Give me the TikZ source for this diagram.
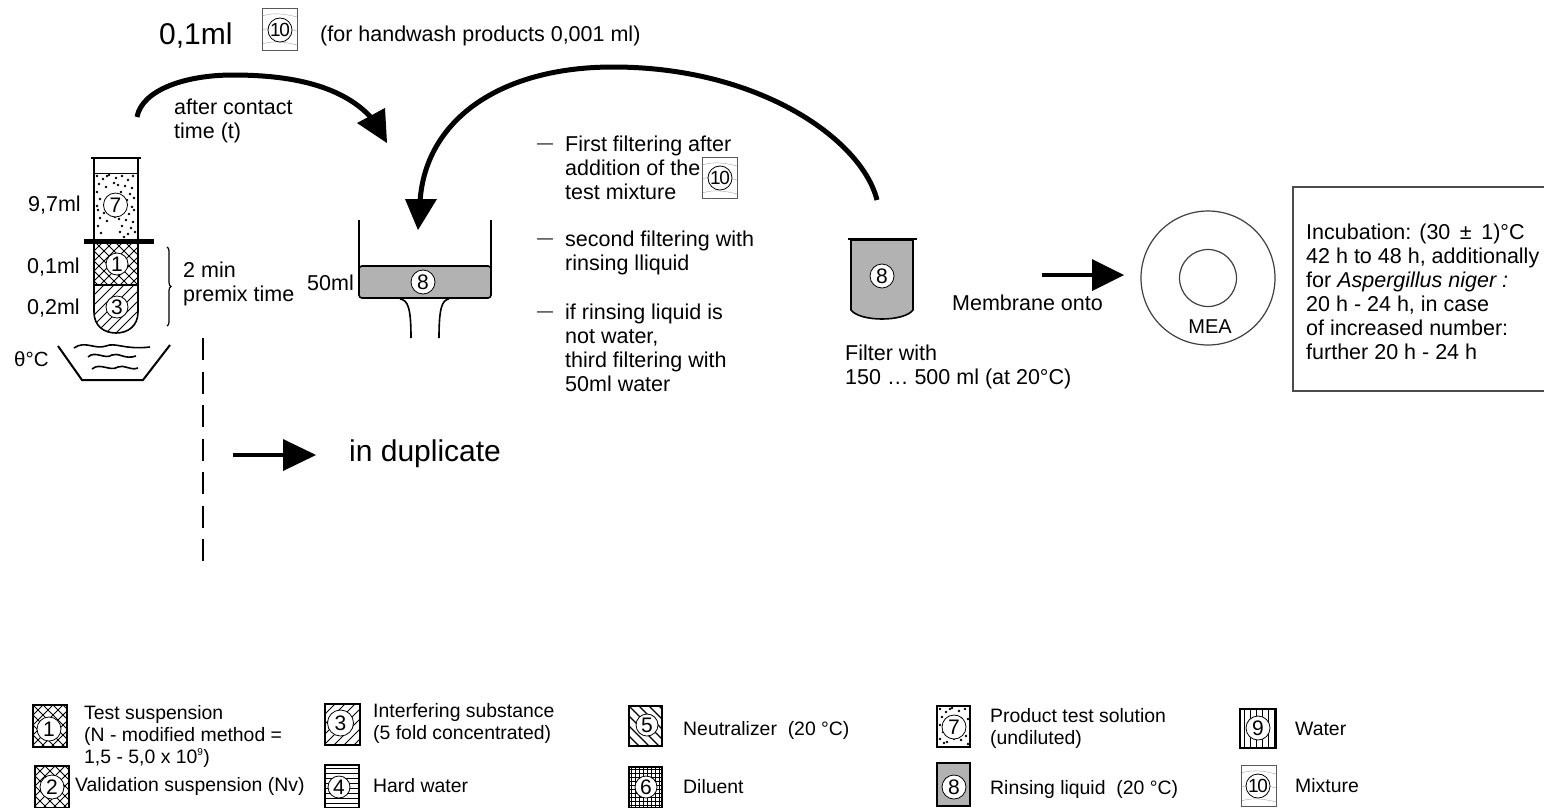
\documentclass[tikz,border=0pt]{standalone}
\usepackage{fontspec}
\setmainfont{Liberation Sans}
\usetikzlibrary{decorations.pathreplacing}
\definecolor{rins}{gray}{0.70}
\tikzset{
 x=1pt,y=-1pt,
 lab/.style={inner sep=0pt,anchor=west,font=\fontsize{21.5}{24}\selectfont,align=left},
 leg/.style={inner sep=0pt,anchor=west,font=\fontsize{19.4}{22}\selectfont,align=left},
 ring/.style={circle,draw=black,line width=0.8pt,fill=white,inner sep=0pt,minimum size=#1,font=\fontsize{21}{21}\selectfont},
 ring/.default=24pt,
 tenring/.style={ring=22pt,font=\fontsize{19}{19}\selectfont\addfontfeature{LetterSpace=-6}},
 vessel/.style={line width=1.6pt,draw=black},
 bigline/.style={line width=5pt,draw=black},
 headfill/.style={fill=black,draw=none},
 iconbox/.style={line width=1.2pt,draw=black},
 mixbox/.style={line width=1pt,draw=black!65},
 stepdash/.style={inner sep=0pt,anchor=west,font=\fontsize{16}{16}\selectfont},
}
\newcommand{\HatchCross}[4]{\begin{scope}\clip (#1,#2) rectangle ++(#3,#4);
 \foreach \k in {-60,-50,...,100}{\draw[line width=1pt] (#1+\k,#2) -- ++(60,60); \draw[line width=1pt] (#1+\k,#2+60) -- ++(60,-60);}\end{scope}}
\newcommand{\HatchUp}[4]{\begin{scope}\clip (#1,#2) rectangle ++(#3,#4);
 \foreach \k in {-10,0,...,120}{\draw[line width=1pt] (#1+\k,#2) -- ++(-60,60);}\end{scope}}
\newcommand{\HatchDown}[4]{\begin{scope}\clip (#1,#2) rectangle ++(#3,#4);
 \foreach \k in {-60,-50,...,60}{\draw[line width=1.4pt] (#1+\k,#2) -- ++(60,60);}\end{scope}}
\newcommand{\HatchH}[4]{\begin{scope}\clip (#1,#2) rectangle ++(#3,#4);
 \foreach \k in {3,8,...,45}{\draw[line width=.7pt] (#1,#2+\k) -- ++(60,0);}\end{scope}}
\newcommand{\HatchV}[4]{\begin{scope}\clip (#1,#2) rectangle ++(#3,#4);
 \foreach \k in {4,10,...,45}{\draw[line width=1pt] (#1+\k,#2) -- ++(0,60);}\end{scope}}
\newcommand{\HatchGrid}[4]{\begin{scope}\clip (#1,#2) rectangle ++(#3,#4);
 \foreach \k in {2,6,...,45}{\draw[line width=.8pt] (#1,#2+\k) -- ++(60,0);\draw[line width=.8pt] (#1+\k,#2) -- ++(0,60);}\end{scope}}
\newcommand{\HatchDots}[4]{\begin{scope}\clip (#1,#2) rectangle ++(#3,#4);
 \foreach \a/\b in {3/3,9/6,15/2,22/5,28/3,34/7,39/3,5/11,12/14,24/12,31/13,38/15,3/19,27/19,36/21,6/26,25/25,33/27,40/25,3/33,10/36,17/33,24/34,29/30,38/34,13/3,20/10,7/37,31/38}{\fill (#1+\a,#2+\b) circle (1.3);}\end{scope}}
\newcommand{\HatchMix}[4]{\begin{scope}\clip (#1,#2) rectangle ++(#3,#4);
 \foreach \k in {8,22,36}{\draw[line width=.4pt,gray!70] (#1,#2+\k) .. controls (#1+10,#2+\k-3) and (#1+20,#2+\k-3) .. (#1+35,#2+\k+1);}\end{scope}}
\begin{document}
\begin{tikzpicture}
\useasboundingbox (0,0) rectangle (1544,807);
\fill[white] (0,0) rectangle (1544,807);
% header
\node[inner sep=0pt,anchor=west,font=\fontsize{30}{32}\selectfont] (dose) at (159,36) {0,1ml};
\HatchMix{262}{8}{35}{42}
\draw[mixbox] (262,8) rectangle (297,50);
\node[tenring] (mixh) at (280,30) {10};
\node[lab] (hand) at (320,36) {(for handwash products 0,001 ml)};
\node[lab] (contact) at (174,121) {after contact\\time (t)};
% arrows
\coordinate (a1s) at (137,117);
\coordinate (a1e) at (375,122);
\draw[bigline] (a1s) .. controls (142,90) and (185,75) .. (233,75) .. controls (290,75) and (345,85) .. (a1e);
\fill[headfill] (387,143) -- (357,123) -- (385,108) -- cycle;
\coordinate (a2s) at (877,200);
\coordinate (a2e) at (420,202);
\draw[bigline] (a2s) .. controls (862,140) and (760,67) .. (613,67) .. controls (500,67) and (425,120) .. (a2e);
\fill[headfill] (418,230) -- (405,199) -- (437,199) -- cycle;
% tube
\HatchDots{94}{173}{44}{34}
\HatchDots{95}{207}{43}{34}
\HatchCross{94}{241}{44}{44}
\begin{scope}
\clip (94,285) -- (138,285) -- (138,312) .. controls (138,326) and (128,333) .. (116,333) .. controls (104,333) and (94,326) .. (94,312) -- cycle;
\foreach \k in {0,10,...,100}{\draw[line width=.9pt] (94+\k,285) -- ++(-55,55);}
\end{scope}
\draw[vessel] (94,158) -- (94,312) .. controls (94,326) and (104,333) .. (116,333) .. controls (128,333) and (138,326) .. (138,312) -- (138,158);
\draw[line width=1.6pt] (91,158) -- (141,158);
\draw[line width=1pt] (94,173) -- (138,173);
\draw[line width=1.5pt] (94,285) -- (138,285);
\draw[line width=5pt] (84,241) -- (154,241);
\node[ring=24pt] (t7) at (115.5,205) {7};
\node[ring=22pt] (t1) at (117,264) {1};
\node[ring=22pt] (t3) at (117,307) {3};
\node[lab] (v97) at (28,205) {9,7ml};
\node[lab] (v01) at (27,267) {0,1ml};
\node[lab] (v02) at (27,308) {0,2ml};
\draw[line width=1.2pt,decorate,decoration={brace,amplitude=4pt}] (167,247) -- (167,326);
\node[lab] (premix) at (183,284) {2 min\\premix time};
% bath
\draw[line width=2pt] (58,346) -- (82,380) -- (143,380) -- (170,345);
\node[lab,font=\fontsize{20.5}{22}\selectfont] (theta) at (14,359) {θ°C};
\draw[line width=1.6pt] (74,348) .. controls (85,340) and (95,350) .. (106,346) .. controls (115,342) and (125,350) .. (150,347);
\draw[line width=1.6pt] (88,357) .. controls (95,350) and (105,360) .. (112,355) .. controls (118,352) and (125,360) .. (136,356);
\draw[line width=1.6pt] (92,369) .. controls (100,362) and (110,372) .. (118,367) .. controls (124,364) and (130,371) .. (138,368);
% dashed
\coordinate (d1) at (203,338);
\coordinate (d2) at (203,562);
\draw[line width=2.5pt,dash pattern=on 22pt off 11.5pt] (d1) -- (d2);
\coordinate (dup1) at (233,455);
\coordinate (dup2) at (289,455);
\draw[line width=4pt] (dup1) -- (dup2);
\fill[headfill] (316,455) -- (283,439) -- (283,471) -- cycle;
\node[lab,font=\fontsize{30}{32}\selectfont] (dupl) at (349,454) {in duplicate};
% funnel
\draw[fill=rins,line width=1.6pt,rounded corners=3pt] (359,266) -- (491,266) -- (491,298) -- (359,298) -- cycle;
\draw[vessel] (359,220) -- (359,290);
\draw[vessel] (491,220) -- (491,290);
\draw[vessel] (400,299) .. controls (408,300) and (411,308) .. (411,338);
\draw[vessel] (449,299) .. controls (442,300) and (439,308) .. (439,338);
\node[ring=24pt] (f8) at (423,282) {8};
\node[lab] (v50) at (307,283) {50ml};
% steps
\node[stepdash] (d1s) at (537,146) {—};
\node[stepdash] (d2s) at (537,241) {—};
\node[stepdash] (d3s) at (537,314) {—};
\node[lab] (s1) at (565,168) {First filtering after\\addition of the\\test mixture};
\HatchMix{702}{157}{35}{41}
\draw[mixbox] (702,157) rectangle (737,198);
\node[tenring] (mixs) at (720,178) {10};
\node[lab] (s2) at (565,253) {second filtering with\\rinsing lliquid};
\node[lab] (s3) at (565,348) {if rinsing liquid is\\not water,\\third filtering with\\50ml water};
% beaker
\draw[fill=rins,line width=1.6pt] (851,240) -- (851,310) .. controls (860,322) and (904,322) .. (913,310) -- (913,240) -- cycle;
\draw[line width=1.6pt] (848,239) -- (917,239);
\node[ring=24pt] (b8) at (882,276) {8};
\node[lab] (onto) at (952,303) {Membrane onto};
\node[lab] (filt) at (845,367) {Filter with\\150 … 500 ml (at 20°C)};
\coordinate (m1) at (1042,275);
\coordinate (m2) at (1095,275);
\draw[line width=4pt] (m1) -- (m2);
\fill[headfill] (1124,275) -- (1092,259) -- (1092,291) -- cycle;
% dish
\node[circle,draw=black!75,line width=1.2pt,minimum size=134pt,inner sep=0pt] (dish) at (1208,278) {};
\node[circle,draw=black!75,line width=1.2pt,minimum size=57pt,inner sep=0pt] (core) at (1208,278) {};
\node[lab,anchor=center,font=\fontsize{20}{22}\selectfont] (mea) at (1210,327) {MEA};
% box
\draw[line width=1.2pt,draw=black!70] (1293,187) rectangle (1548,391);
\node[lab] (incub) at (1306,292) {Incubation: (30 \,±\, 1)°C\\42 h to 48 h, additionally\\for \textit{Aspergillus niger :}\\20 h - 24 h, in case\\of increased number:\\further 20 h - 24 h};
% legend
\HatchCross{33}{705}{34}{42}
\draw[iconbox] (33,705) rectangle (67,747);
\node[ring=24pt] (l1) at (49,729) {1};
\node[leg] (tl1) at (84,736) {Test suspension\\(N - modified method =\\1,5 - 5,0 x 10\textsuperscript{\fontsize{10}{10}\selectfont 9})};
\HatchCross{35}{766}{34}{41}
\draw[iconbox] (35,766) rectangle (69,808);
\node[ring=24pt] (l2) at (52,787) {2};
\node[leg] (tl2) at (75,786) {Validation suspension (Nv)};
\HatchUp{325}{704}{35}{41}
\draw[iconbox] (325,704) rectangle (360,745);
\node[ring=26pt] (l3) at (340.5,723) {3};
\node[leg] (tl3) at (373,723) {Interfering substance\\(5 fold concentrated)};
\HatchH{325}{765}{34}{42}
\draw[iconbox] (325,765) rectangle (359,808);
\node[ring=22pt] (l4) at (339,787) {4};
\node[leg] (tl4) at (373,786) {Hard water};
\HatchDown{629}{706}{33}{40}
\draw[iconbox] (629,706) rectangle (662,746);
\node[ring=22pt] (l5) at (647,725) {5};
\node[leg] (tl5) at (683,730) {Neutralizer\ \ (20 °C)};
\HatchGrid{629}{767}{33}{40}
\draw[iconbox] (629,767) rectangle (662,808);
\node[ring=22pt] (l6) at (646,787) {6};
\node[leg] (tl6) at (683,787) {Diluent};
\HatchDots{937}{706}{33}{41}
\draw[iconbox] (937,706) rectangle (970,747);
\node[ring=24pt] (l7) at (954,727) {7};
\node[leg] (tl7) at (990,728) {Product test solution\\(undiluted)};
\draw[iconbox,fill=rins] (937,763) rectangle (970,806);
\node[ring=24pt] (l8) at (954,787) {8};
\node[leg] (tl8) at (990,789) {Rinsing liquid\ \ (20 °C)};
\HatchV{1240}{709}{36}{39}
\draw[iconbox] (1240,709) rectangle (1276,748);
\node[ring=24pt] (l9) at (1258,728) {9};
\node[leg] (tl9) at (1295,729) {Water};
\HatchMix{1241}{765}{35}{41}
\draw[mixbox] (1241,765) rectangle (1276,806);
\node[tenring] (l10) at (1258,786) {10};
\node[leg] (tl10) at (1295,786) {Mixture};
\end{tikzpicture}
\end{document}
